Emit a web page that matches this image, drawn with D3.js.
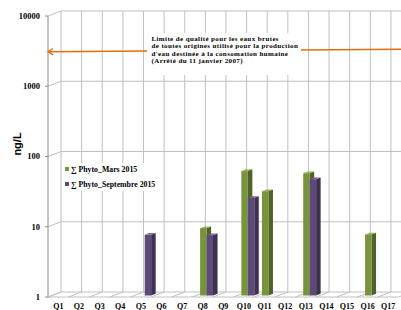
<!DOCTYPE html>
<html>
<head>
<meta charset="utf-8">
<script src="https://cdn.jsdelivr.net/npm/d3@7"></script>
<style>
  body { margin: 0; background: #fff; }
  svg { display: block; }
</style>
</head>
<body>
<svg id="chart"></svg>
<script>
let categories = ['Q1','Q2','Q3','Q4','Q5','Q6','Q7','Q8','Q9','Q10','Q11','Q12','Q13','Q14','Q15','Q16','Q17']
let marsValues = [null,null,null,null,null,null,null,9.1,null,59,30.5,null,55,null,null,7.4,null]
let septValues = [null,null,null,null,7.3,null,null,7.2,null,24.5,null,null,45,null,null,null,null]
let seriesNames = ['∑ Phyto_Mars 2015', '∑ Phyto_Septembre 2015']
let yTicks = [1, 10, 100, 1000, 10000]
let noteLines = [
  'Limite de qualité pour les eaux brutes',
  'de toutes origines utilisé pour la production',
  "d'eau destinée à la consomation humaine",
  '(Arrêté du 11 janvier 2007)'
]
let limitValue = 3100

let width = 401
let height = 310
let left = 48
let bandW = 20.62
let depthX = 13
let depthY = -5

let colors = {
  mars: { front: '#77933c', side: '#4f6228', top: '#93b352' },
  sept: { front: '#5f497a', side: '#3f3151', top: '#7a65a0' }
}
let grid = '#c0c0c0'
let orange = '#e46c0a'
let serif = "'Liberation Serif', serif"

let svg = d3.select('#chart').attr('width', width).attr('height', height)

let xScale = d3.scaleBand()
  .domain(categories)
  .range([left, left + categories.length * bandW])

let yScale = d3.scaleLog()
  .domain([1, 10000])
  .range([297, 16])

let inner = d3.scaleBand()
  .domain(['mars', 'sept'])
  .range([0, bandW])
  .paddingOuter(0.6)

// back wall + floor + left wall gridlines
let g = svg.append('g')
yTicks.forEach(t => {
  let y = yScale(t)
  g.append('line').attr('x1', left + depthX).attr('x2', width + 5)
    .attr('y1', y + depthY).attr('y2', y + depthY)
  g.append('line').attr('x1', left).attr('x2', left + depthX)
    .attr('y1', y).attr('y2', y + depthY)
})
d3.range(categories.length + 1).forEach(i => {
  let x = left + i * bandW
  g.append('line').attr('x1', x + depthX).attr('x2', x + depthX)
    .attr('y1', yScale(10000) + depthY).attr('y2', yScale(1) + depthY)
  g.append('line').attr('x1', x).attr('x2', x + depthX)
    .attr('y1', yScale(1)).attr('y2', yScale(1) + depthY)
})
g.selectAll('line').attr('stroke', grid).attr('stroke-width', 1)

// front axis lines
svg.append('line').attr('x1', left).attr('x2', left)
  .attr('y1', yScale(10000)).attr('y2', yScale(1))
  .attr('stroke', '#8a8a8a')
svg.append('line').attr('x1', left).attr('x2', left + categories.length * bandW)
  .attr('y1', yScale(1)).attr('y2', yScale(1))
  .attr('stroke', grid)
svg.selectAll('.ytick').data(yTicks).enter().append('line')
  .attr('x1', left - 3).attr('x2', left)
  .attr('y1', d => yScale(d)).attr('y2', d => yScale(d))
  .attr('stroke', '#8a8a8a')

// y tick labels
svg.selectAll('.ylab').data(yTicks).enter().append('text')
  .attr('x', 40).attr('y', d => yScale(d) + 2.8)
  .attr('text-anchor', 'end')
  .attr('font-family', serif).attr('font-weight', 'bold').attr('font-size', 8.5)
  .text(d => d)

// category labels
svg.selectAll('.xlab').data(categories).enter().append('text')
  .attr('x', d => xScale(d) + bandW / 2).attr('y', 308.5)
  .attr('text-anchor', 'middle')
  .attr('font-family', serif).attr('font-weight', 'bold').attr('font-size', 8)
  .text(d => d)

// y axis title
svg.append('text')
  .attr('transform', 'translate(21,144) rotate(-90)')
  .attr('text-anchor', 'middle')
  .attr('font-family', "'Liberation Sans', sans-serif").attr('font-weight', 'bold').attr('font-size', 11)
  .text('ng/L')

// bars
let f0 = 0.3
let fd = 0.35
let bars = []
categories.forEach((c, i) => {
  if (marsValues[i] != null) bars.push({ cat: c, key: 'mars', v: marsValues[i] })
  if (septValues[i] != null) bars.push({ cat: c, key: 'sept', v: septValues[i] })
})
let bg = svg.append('g')
bars.forEach(b => {
  let x0 = xScale(b.cat) + inner(b.key) + f0 * depthX
  let x1 = x0 + inner.bandwidth()
  let yt = yScale(b.v) + f0 * depthY
  let yb = yScale(1) + f0 * depthY
  let dx = fd * depthX
  let dy = fd * depthY
  let c = colors[b.key]
  bg.append('polygon')
    .attr('points', [[x1, yt], [x1 + dx, yt + dy], [x1 + dx, yb + dy], [x1, yb]].join(' '))
    .attr('fill', c.side)
  bg.append('polygon')
    .attr('points', [[x0, yt], [x1, yt], [x1 + dx, yt + dy], [x0 + dx, yt + dy]].join(' '))
    .attr('fill', c.top)
  bg.append('rect')
    .attr('x', x0).attr('y', yt).attr('width', x1 - x0).attr('height', yb - yt)
    .attr('fill', c.front)
})

// limit arrow
let yLim = yScale(limitValue)
let tilt = -2.4 / (width - left)
let yAt = x => yLim + (x - left) * tilt
svg.append('line')
  .attr('x1', 147).attr('y1', yAt(147)).attr('x2', left + 1).attr('y2', yAt(left))
  .attr('stroke', orange).attr('stroke-width', 1.5)
svg.append('path')
  .attr('d', `M${left + 5},${yAt(left) - 3.2}L${left},${yAt(left)}L${left + 5},${yAt(left) + 3.2}`)
  .attr('fill', 'none').attr('stroke', orange).attr('stroke-width', 1.4)
svg.append('line')
  .attr('x1', 301).attr('y1', yAt(301)).attr('x2', width).attr('y2', yAt(width))
  .attr('stroke', orange).attr('stroke-width', 1.5)

// note box
svg.append('rect').attr('x', 147).attr('y', 33).attr('width', 154).attr('height', 42).attr('fill', '#fff')
svg.selectAll('.note').data(noteLines).enter().append('text')
  .attr('x', 151.5).attr('y', (d, i) => 40.5 + i * 7.5)
  .attr('font-family', serif).attr('font-weight', 'bold').attr('font-size', 7)
  .attr('letter-spacing', 0.38)
  .text(d => d)

// legend
svg.append('rect').attr('x', 63).attr('y', 163).attr('width', 93).attr('height', 28).attr('fill', '#fff')
seriesNames.forEach((n, i) => {
  let key = i == 0 ? 'mars' : 'sept'
  let y = 169 + i * 15
  svg.append('rect').attr('x', 65).attr('y', y - 2).attr('width', 4).attr('height', 4)
    .attr('fill', colors[key].front)
  svg.append('text').attr('x', 71).attr('y', y + 2.5)
    .attr('font-family', serif).attr('font-weight', 'bold').attr('font-size', 7.8)
    .text(n)
})
</script>
</body>
</html>
